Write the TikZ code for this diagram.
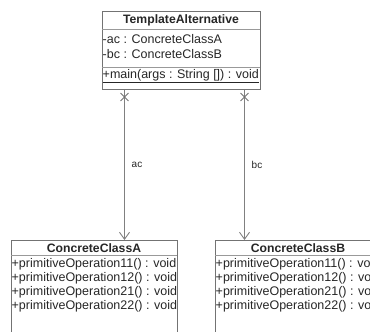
\documentclass[tikz,border=0pt]{standalone}
\usepackage{fontspec}
\setmainfont{Liberation Sans}
\usetikzlibrary{arrows.meta,shapes.misc}
\tikzset{
  umlbox/.style={draw=black!55, line width=0.9pt, anchor=north west, inner sep=0pt, fill=none},
  sepline/.style={draw=black!40, line width=0.8pt},
  rowtext/.style={anchor=west, inner sep=0pt, text=black!85, font=\fontsize{12.5}{14}\selectfont},
  titletext/.style={anchor=center, inner sep=0pt, text=black!85, font=\fontsize{12.2}{14}\selectfont\bfseries},
  assoc/.style={draw=black!50, line width=0.9pt, -{Straight Barb[length=7pt,width=10pt,line width=0.9pt]}},
  xmark/.style={draw=black!55, line width=0.9pt, cross out, minimum size=7pt, inner sep=0pt},
  lbl/.style={inner sep=0pt, text=black!85, font=\fontsize{10}{12}\selectfont}
}
\begin{document}
\begin{tikzpicture}[x=1pt,y=-1pt]
\useasboundingbox (0,0) rectangle (370,332);
\clip (0,0) rectangle (370,332);
% top class
\node[umlbox, minimum width=158pt, minimum height=78.5pt] (T) at (102,10.5) {};
\draw[sepline] (102,29) -- (260,29);
\draw[sepline] (102,67) -- (260,67);
\node[titletext] (Tt) at (181,20) {TemplateAlternative};
\node[rowtext] (T1) at (102.5,39.5) {-ac : ConcreteClassA};
\node[rowtext] (T2) at (102.5,54) {-bc : ConcreteClassB};
\node[rowtext] (T3) at (102.5,76) {\underline{+main(args : String []) : void}};
% class A
\node[umlbox, minimum width=166pt, minimum height=120pt] (A) at (11,240) {};
\draw[sepline] (11,255.5) -- (177,255.5);
\node[titletext] (At) at (94,248) {ConcreteClassA};
\node[rowtext] (A1) at (11.5,264.7) {+primitiveOperation11() : void};
\node[rowtext] (A2) at (11.5,278.7) {+primitiveOperation12() : void};
\node[rowtext] (A3) at (11.5,292.7) {+primitiveOperation21() : void};
\node[rowtext] (A4) at (11.5,306.7) {+primitiveOperation22() : void};
% class B
\node[umlbox, minimum width=166pt, minimum height=120pt] (B) at (215,240) {};
\draw[sepline] (215,255.5) -- (381,255.5);
\node[titletext] (Bt) at (298,248) {ConcreteClassB};
\node[rowtext] (B1) at (215.5,264.7) {+primitiveOperation11() : void};
\node[rowtext] (B2) at (215.5,278.7) {+primitiveOperation12() : void};
\node[rowtext] (B3) at (215.5,292.7) {+primitiveOperation21() : void};
\node[rowtext] (B4) at (215.5,306.7) {+primitiveOperation22() : void};
% associations
\coordinate (xa) at (124.5,0);
\coordinate (xb) at (244.5,0);
\draw[assoc] (T.south -| xa) -- (A.north -| xa);
\draw[assoc] (T.south -| xb) -- (B.north -| xb);
\node[xmark] (ca) at (124.5,97) {};
\node[xmark] (cb) at (244.5,97) {};
\node[lbl] (la) at (137,165) {ac};
\node[lbl] (lb) at (257,165) {bc};
\end{tikzpicture}
\end{document}
